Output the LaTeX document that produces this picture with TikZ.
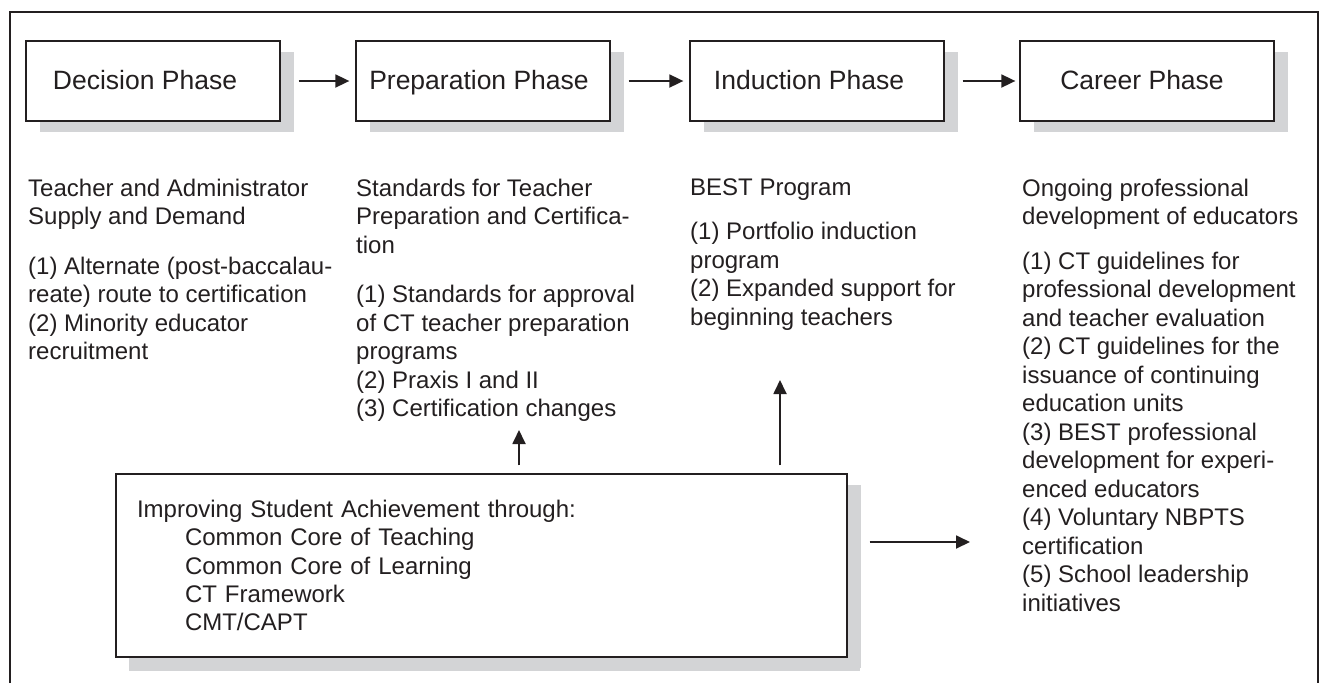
\documentclass[tikz,border=0pt]{standalone}
\usepackage{fontspec}
\setmainfont{Liberation Sans}
\usetikzlibrary{arrows.meta,shadows}
\definecolor{shadowgray}{RGB}{211,212,214}
\definecolor{inkgray}{RGB}{35,31,32}

\begin{document}
\begin{tikzpicture}[x=1pt,y=-1pt,
    phasebox/.style={draw=inkgray, line width=1.3pt, fill=white, text=inkgray,
      minimum width=254pt, minimum height=80pt, inner sep=0pt,
      text height=19pt, text depth=3pt,
      font=\fontsize{26.5}{30}\selectfont,
      drop shadow={shadow xshift=14pt, shadow yshift=-11pt, fill=shadowgray, opacity=1}},
    coltext/.style={anchor=north west, align=left, inner sep=0pt, text=inkgray,
      font=\fontsize{24}{28.5}\selectfont},
    flow/.style={draw=inkgray, line width=1.8pt, -{Triangle[length=14pt,width=13pt]}}]
  \useasboundingbox (0,0) rectangle (1322,683);

  % Outer frame
  \draw[inkgray, line width=2pt] (10,683) -- (10,12) -- (1318,12) -- (1318,683);

  % Phases
  \node[phasebox] (decision) at (153,81) {\hspace*{-16pt}Decision Phase};
  \node[phasebox] (preparation) at (483,81) {\hspace*{-8pt}Preparation Phase};
  \node[phasebox] (induction) at (817,81) {\hspace*{-16pt}Induction Phase};
  \node[phasebox] (career) at (1147,81) {\hspace*{-10pt}Career Phase};

  \draw[flow, shorten <=18pt, shorten >=6pt] (decision) -- (preparation);
  \draw[flow, shorten <=18pt, shorten >=6pt] (preparation) -- (induction);
  \draw[flow, shorten <=18pt, shorten >=4pt] (induction) -- (career);

  % Text under each phase
  \node[coltext] (decisiontext) at (28,178.5) {Teacher and Administrator\\Supply and Demand\\[21pt]
    (1) Alternate (post-baccalau-\\reate) route to certification\\(2) Minority educator\\recruitment};
  \node[coltext] (preparationtext) at (356,178.5) {Standards for Teacher\\Preparation and Certifica-\\tion\\[21pt]
    (1) Standards for approval\\of CT teacher preparation\\programs\\(2) Praxis I and II\\(3) Certification changes};
  \node[coltext] (inductiontext) at (690,178.5) {BEST Program\\[16pt]
    (1) Portfolio induction\\program\\(2) Expanded support for\\beginning teachers};
  \node[coltext] (careertext) at (1022,178.5) {Ongoing professional\\development of educators\\[16pt]
    (1) CT guidelines for\\professional development\\and teacher evaluation\\(2) CT guidelines for the\\issuance of continuing\\education units\\(3) BEST professional\\development for experi-\\enced educators\\(4) Voluntary NBPTS\\certification\\(5) School leadership\\initiatives};

  % Student achievement
  \node[phasebox, minimum width=0pt, minimum height=183pt, text width=689pt, inner xsep=21pt,
    text height=, text depth=, align=left, font=\fontsize{24}{28.3}\selectfont,
    drop shadow={shadow xshift=13pt, shadow yshift=-14pt, fill=shadowgray, opacity=1}]
    (improve) at (481.5,565.5) {Improving Student Achievement through:\\
    \hspace*{48pt}Common Core of Teaching\\
    \hspace*{48pt}Common Core of Learning\\
    \hspace*{48pt}CT Framework\\
    \hspace*{48pt}CMT/CAPT};

  \coordinate (tipprep) at (519,430);
  \coordinate (tipind) at (780,380);
  \coordinate (tipcar) at (970,542);
  \draw[flow, shorten <=8pt] (improve.north -| tipprep) -- (tipprep);
  \draw[flow, shorten <=8pt] (improve.north -| tipind) -- (tipind);
  \draw[flow, shorten <=22pt] (improve.east |- tipcar) -- (tipcar);
\end{tikzpicture}
\end{document}
